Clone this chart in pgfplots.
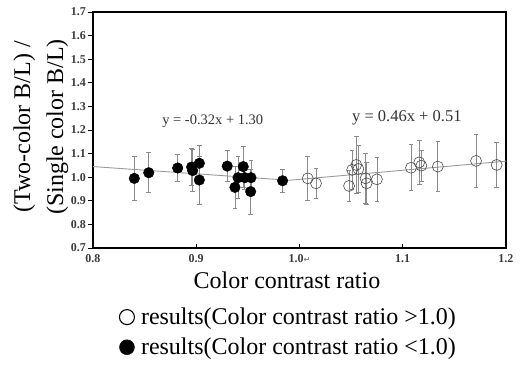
\documentclass[border=0pt]{standalone}
\usepackage{pgfplots}
\pgfplotsset{compat=1.18}
\usepackage{fontspec}
\setmainfont{Liberation Serif}
\newfontfamily\dejavu{DejaVu Sans}
\definecolor{errgray}{HTML}{8A8A8A}
\definecolor{trendgray}{HTML}{9A9A9A}
\definecolor{txtgray}{HTML}{333333}
\definecolor{tickgray}{HTML}{3A3A3A}
\begin{document}
\begin{tikzpicture}
\useasboundingbox (-93pt,-117pt) rectangle (427pt,248pt);
\begin{axis}[
  at={(0pt,0pt)}, anchor=south west,
  scale only axis, width=413pt, height=236pt,
  xmin=0.8, xmax=1.2, ymin=0.7, ymax=1.7,
  xtick={0.8,0.9,1.0,1.1,1.2},
  xticklabels={0.8,0.9,{1.0{\dejavu\fontsize{8}{9}\selectfont\color{gray}↵}},1.1,1.2},
  ytick={0.7,0.8,...,1.71},
  yticklabel style={/pgf/number format/fixed,/pgf/number format/precision=1,/pgf/number format/fixed zerofill,/pgf/number format/assume math mode=true,
    font=\fontsize{12}{14}\selectfont\bfseries, text=tickgray},
  xticklabel style={font=\fontsize{12}{14}\selectfont\bfseries, text=tickgray},
  xtick pos=bottom, ytick pos=left,
  major tick length=4.5pt,
  x tick style={black, line width=0.6pt},
  y tick style={black, line width=0.8pt},
  xtick align=inside, ytick align=outside,
  axis line style={black, line width=1.4pt},
  xticklabel shift=3pt,
  yticklabel shift=-1pt,
  clip=false,
  legend style={at={(0.055,-0.245)}, anchor=north west, draw=none, fill=none,
    font=\fontsize{24}{28}\selectfont, row sep=12pt, column sep=6pt,
    nodes={inner sep=0pt}},
  legend cell align=left,
  legend image code/.code={\draw[#1] (0.24cm,0) circle (7.5pt);},
]
% trend lines
\addplot[trendgray, line width=0.9pt, forget plot] coordinates {(0.8,1.045) (0.99,0.987)};
\addplot[trendgray, line width=0.9pt, forget plot] coordinates {(0.99,0.987) (1.2,1.068)};
% open circles (ratio > 1.0)
\addplot[only marks, mark=o, mark size=5.5pt, mark options={draw=black!70, line width=0.6pt, fill=none}, forget plot,
  error bars/.cd, y dir=both, y explicit,
  error bar style={errgray, line width=0.8pt},
  error mark options={rotate=90, mark size=2.3pt, errgray, line width=0.8pt}]
  table[x=x, y=y, y error=e] {
x y e
1.008 0.995 0.092
1.016 0.974 0.062
1.048 0.963 0.067
1.051 1.031 0.084
1.055 1.052 0.120
1.057 1.035 0.100
1.064 0.995 0.105
1.065 0.974 0.088
1.075 0.991 0.095
1.108 1.040 0.097
1.116 1.063 0.095
1.118 1.049 0.065
1.134 1.045 0.107
1.171 1.069 0.112
1.191 1.052 0.094
};
% filled circles (ratio < 1.0)
\addplot[only marks, mark=*, mark size=5.3pt, mark options={draw=black, fill=black}, forget plot,
  error bars/.cd, y dir=both, y explicit,
  error bar style={errgray, line width=0.8pt},
  error mark options={rotate=90, mark size=2.3pt, errgray, line width=0.8pt}]
  table[x=x, y=y, y error=e] {
x y e
0.840 0.995 0.092
0.854 1.019 0.085
0.882 1.039 0.057
0.8955 1.043 0.079
0.8965 1.028 0.090
0.903 1.059 0.077
0.903 0.988 0.102
0.930 1.047 0.066
0.9375 0.957 0.088
0.9405 0.998 0.089
0.9455 1.045 0.087
0.947 0.998 0.050
0.953 0.998 0.075
0.9527 0.939 0.095
0.9836 0.985 0.050
};
\addlegendimage{draw=black, line width=1.1pt, fill=none}
\addlegendentry{results(Color contrast ratio >1.0)}
\addlegendimage{draw=black, fill=black}
\addlegendentry{results(Color contrast ratio <1.0)}
\node[font=\fontsize{14.5}{16}\selectfont, text=txtgray] at (axis cs:0.916,1.238) {y = -0.32x + 1.30};
\node[font=\fontsize{16.5}{18}\selectfont, text=txtgray] at (axis cs:1.104,1.251) {y = 0.46x + 0.51};
\end{axis}
\node[rotate=90, align=center, font=\fontsize{24}{33}\selectfont] at (-52pt,121pt) {(Two-color B/L) /\\(Single color B/L)};
\node[font=\fontsize{24}{28}\selectfont] at (194pt,-32pt) {Color contrast ratio};
\end{tikzpicture}
\end{document}
